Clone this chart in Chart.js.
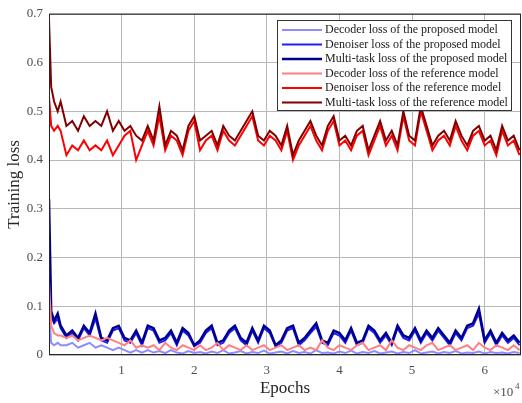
<!DOCTYPE html>
<html>
<head>
<meta charset="utf-8">
<script src="https://cdn.jsdelivr.net/npm/chart.js@4"></script>
<style>
html, body { margin: 0; padding: 0; background: #fff; }
</style>
</head>
<body>
<canvas id="myChart" width="522" height="403"></canvas>
<script>
const epochs = [
	0, 300, 700, 1200, 1600, 2400, 3200, 4000, 4800, 5600,
	6400, 7200, 8000, 8800, 9600, 10400, 11200, 12000, 12800, 13600,
	14400, 15200, 16000, 16800, 17600, 18400, 19200, 20000, 20800, 21600,
	22400, 23200, 24000, 24800, 25600, 26400, 27200, 28000, 28800, 29600,
	30400, 31200, 32000, 32800, 33600, 34400, 35200, 36000, 36800, 37600,
	38400, 39200, 40000, 40800, 41600, 42400, 43200, 44000, 44800, 45600,
	46400, 47200, 48000, 48800, 49600, 50400, 51200, 52000, 52800, 53600,
	54400, 55200, 56000, 56800, 57600, 58400, 59200, 60000, 60800, 61600,
	62400, 63200, 64000, 64800,
];

const decoderProposed = [
	0.09, 0.025, 0.02, 0.025, 0.02, 0.02, 0.025, 0.015, 0.02, 0.025,
	0.015, 0.02, 0.015, 0.01, 0.015, 0.01, 0.005, 0.01, 0.005, 0.01,
	0.005, 0.008, 0.004, 0.01, 0.005, 0.003, 0.008, 0.004, 0.006, 0.003,
	0.007, 0.004, 0.01, 0.003, 0.005, 0.008, 0.003, 0.006, 0.004, 0.009,
	0.003, 0.005, 0.007, 0.003, 0.008, 0.004, 0.006, 0.003, 0.01, 0.004,
	0.005, 0.003, 0.007, 0.004, 0.009, 0.003, 0.006, 0.004, 0.008, 0.003,
	0.005, 0.007, 0.003, 0.006, 0.004, 0.01, 0.003, 0.005, 0.007, 0.003,
	0.006, 0.004, 0.008, 0.003, 0.005, 0.004, 0.007, 0.003, 0.006, 0.004,
	0.005, 0.003, 0.006, 0.004,
];
const denoiserProposed = [
	0.23, 0.08, 0.065, 0.075, 0.055, 0.035, 0.045, 0.03, 0.055, 0.04,
	0.075, 0.03, 0.025, 0.05, 0.055, 0.03, 0.025, 0.045, 0.02, 0.055,
	0.05, 0.025, 0.03, 0.045, 0.02, 0.05, 0.04, 0.018, 0.025, 0.045,
	0.055, 0.02, 0.025, 0.045, 0.055, 0.03, 0.02, 0.05, 0.025, 0.055,
	0.045, 0.018, 0.025, 0.05, 0.055, 0.02, 0.03, 0.045, 0.058, 0.025,
	0.02, 0.045, 0.04, 0.025, 0.05, 0.02, 0.025, 0.055, 0.045, 0.025,
	0.04, 0.02, 0.055, 0.035, 0.03, 0.05, 0.025, 0.045, 0.03, 0.05,
	0.035, 0.02, 0.045, 0.03, 0.055, 0.06, 0.085, 0.025, 0.045, 0.02,
	0.04, 0.025, 0.035, 0.02,
];
const multiProposed = [
	0.32, 0.09, 0.07, 0.085, 0.06, 0.04, 0.05, 0.035, 0.06, 0.045,
	0.085, 0.035, 0.03, 0.055, 0.06, 0.035, 0.03, 0.05, 0.025, 0.06,
	0.055, 0.03, 0.035, 0.05, 0.025, 0.055, 0.045, 0.02, 0.03, 0.05,
	0.06, 0.025, 0.03, 0.05, 0.06, 0.035, 0.025, 0.055, 0.03, 0.06,
	0.05, 0.02, 0.03, 0.055, 0.06, 0.025, 0.035, 0.05, 0.065, 0.03,
	0.025, 0.05, 0.045, 0.03, 0.055, 0.025, 0.03, 0.06, 0.05, 0.03,
	0.045, 0.025, 0.06, 0.04, 0.035, 0.055, 0.03, 0.05, 0.035, 0.055,
	0.04, 0.025, 0.05, 0.035, 0.06, 0.065, 0.095, 0.03, 0.05, 0.025,
	0.045, 0.03, 0.04, 0.025,
];
const decoderReference = [
	0.15, 0.06, 0.045, 0.04, 0.04, 0.035, 0.04, 0.03, 0.035, 0.04,
	0.035, 0.03, 0.035, 0.03, 0.025, 0.02, 0.03, 0.015, 0.02, 0.015,
	0.02, 0.01, 0.025, 0.015, 0.01, 0.02, 0.015, 0.01, 0.02, 0.01,
	0.015, 0.025, 0.01, 0.02, 0.015, 0.01, 0.02, 0.01, 0.015, 0.02,
	0.01, 0.015, 0.02, 0.01, 0.015, 0.02, 0.01, 0.015, 0.01, 0.03,
	0.015, 0.01, 0.02, 0.015, 0.01, 0.02, 0.025, 0.01, 0.015, 0.02,
	0.01, 0.03, 0.015, 0.01, 0.02, 0.015, 0.01, 0.02, 0.025, 0.01,
	0.015, 0.02, 0.01, 0.015, 0.02, 0.01, 0.025, 0.015, 0.01, 0.02,
	0.015, 0.01, 0.02, 0.01,
];
const denoiserReference = [
	0.53, 0.47, 0.46, 0.47, 0.46, 0.41, 0.43, 0.42, 0.44, 0.42,
	0.43, 0.42, 0.44, 0.41, 0.43, 0.45, 0.46, 0.40, 0.43, 0.46,
	0.43, 0.49, 0.42, 0.45, 0.44, 0.41, 0.46, 0.48, 0.42, 0.44,
	0.45, 0.42, 0.46, 0.44, 0.43, 0.45, 0.47, 0.49, 0.44, 0.43,
	0.45, 0.44, 0.42, 0.46, 0.40, 0.43, 0.45, 0.47, 0.44, 0.42,
	0.46, 0.48, 0.43, 0.44, 0.42, 0.45, 0.46, 0.41, 0.44, 0.47,
	0.43, 0.45, 0.42, 0.49, 0.44, 0.43, 0.50, 0.46, 0.42, 0.44,
	0.45, 0.43, 0.47, 0.44, 0.42, 0.45, 0.46, 0.43, 0.44, 0.41,
	0.46, 0.43, 0.44, 0.41,
];
const multiReference = [
	0.69, 0.55, 0.52, 0.50, 0.52, 0.47, 0.48, 0.46, 0.49, 0.47,
	0.48, 0.47, 0.50, 0.46, 0.48, 0.46, 0.47, 0.45, 0.44, 0.47,
	0.44, 0.51, 0.43, 0.46, 0.45, 0.42, 0.47, 0.49, 0.44, 0.45,
	0.46, 0.43, 0.47, 0.45, 0.44, 0.46, 0.48, 0.50, 0.45, 0.44,
	0.46, 0.45, 0.43, 0.47, 0.41, 0.44, 0.46, 0.48, 0.45, 0.43,
	0.47, 0.49, 0.44, 0.45, 0.43, 0.46, 0.47, 0.42, 0.45, 0.48,
	0.44, 0.46, 0.43, 0.50, 0.45, 0.44, 0.51, 0.47, 0.43, 0.45,
	0.46, 0.44, 0.48, 0.45, 0.43, 0.46, 0.47, 0.44, 0.45, 0.42,
	0.47, 0.44, 0.45, 0.42,
];

const seriesLabels = [
	"Decoder loss of the proposed model",
	"Denoiser loss of the proposed model",
	"Multi-task loss of the proposed model",
	"Decoder loss of the reference model",
	"Denoiser loss of the reference model",
	"Multi-task loss of the reference model",
];
const seriesValues = [
	decoderProposed, denoiserProposed, multiProposed,
	decoderReference, denoiserReference, multiReference,
];
const seriesColors = ["#8c8cff", "#1e1eff", "#00008c", "#ff8080", "#ff0000", "#800000"];
const seriesWidths = [2, 2, 2.5, 2, 2, 2];

const yTicks = [0, 0.1, 0.2, 0.3, 0.4, 0.5, 0.6, 0.7];
const xTicks = [10000, 20000, 30000, 40000, 50000, 60000];

const serif = "'Liberation Serif', 'Times New Roman', serif";

// MATLAB-style frame, exponent label and boxed legend inside the axes
const matlabBits = {
	id: "matlabBits",
	afterDraw(chart) {
		const { ctx, chartArea: a } = chart;
		ctx.save();
		ctx.strokeStyle = "#262626";
		ctx.lineWidth = 1;
		ctx.strokeRect(a.left + 0.5, a.top + 0.5, a.right - a.left - 1, a.bottom - a.top - 1);

		ctx.fillStyle = "#4d4d4d";
		ctx.textBaseline = "alphabetic";
		ctx.textAlign = "left";
		ctx.font = "13px " + serif;
		ctx.fillText("\u00d710", 493, 396);
		ctx.font = "9px " + serif;
		ctx.fillText("4", 515, 389);

		const bx = 277, by = 20, bw = 234, bh = 90;
		ctx.fillStyle = "#fff";
		ctx.fillRect(bx, by, bw, bh);
		ctx.strokeStyle = "#333";
		ctx.strokeRect(bx + 0.5, by + 0.5, bw, bh);
		ctx.font = "12px " + serif;
		ctx.textBaseline = "middle";
		chart.data.datasets.forEach((ds, i) => {
			const y = 30 + i * 14.5;
			ctx.strokeStyle = ds.borderColor;
			ctx.lineWidth = ds.borderWidth;
			ctx.beginPath();
			ctx.moveTo(282, y);
			ctx.lineTo(322, y);
			ctx.stroke();
			ctx.fillStyle = "#1a1a1a";
			ctx.fillText(ds.label, 325, y);
		});
		ctx.restore();
	},
};

const ctx = document.getElementById("myChart");

new Chart(ctx, {
	type: "line",
	data: {
		labels: epochs,
		datasets: seriesLabels.map((label, i) => ({
			label,
			data: seriesValues[i],
			borderColor: seriesColors[i],
			borderWidth: seriesWidths[i],
			pointRadius: 0,
			tension: 0,
			fill: false,
			order: 6 - i,
		})),
	},
	options: {
		responsive: false,
		animation: false,
		layout: { padding: { top: 10, right: 1, left: 0, bottom: 0 } },
		plugins: {
			legend: { display: false },
			tooltip: { enabled: false },
		},
		scales: {
			x: {
				type: "linear",
				min: 0,
				max: 65000,
				afterFit: (s) => { s.height = 48; },
				afterBuildTicks: (s) => { s.ticks = xTicks.map((v) => ({ value: v })); },
				ticks: {
					color: "#4d4d4d",
					font: { family: serif, size: 13 },
					padding: 8,
					maxRotation: 0,
					callback: (v) => String(v / 10000),
				},
				grid: { color: "#b8b8b8", drawTicks: false },
				border: { display: false },
				title: {
					display: true,
					text: "Epochs",
					color: "#262626",
					font: { family: serif, size: 17 },
					padding: { top: 0, bottom: 4 },
				},
			},
			y: {
				min: 0,
				max: 0.7,
				afterFit: (s) => { s.width = 49; },
				afterBuildTicks: (s) => { s.ticks = yTicks.map((v) => ({ value: v })); },
				ticks: {
					color: "#4d4d4d",
					font: { family: serif, size: 13 },
					padding: 6,
					callback: (v) => String(Math.round(v * 10) / 10),
				},
				grid: { color: "#b8b8b8", drawTicks: false },
				border: { display: false },
				title: {
					display: true,
					text: "Training loss",
					color: "#262626",
					font: { family: serif, size: 17 },
					padding: { top: 4, bottom: 0 },
				},
			},
		},
	},
	plugins: [matlabBits],
});
</script>
</body>
</html>
